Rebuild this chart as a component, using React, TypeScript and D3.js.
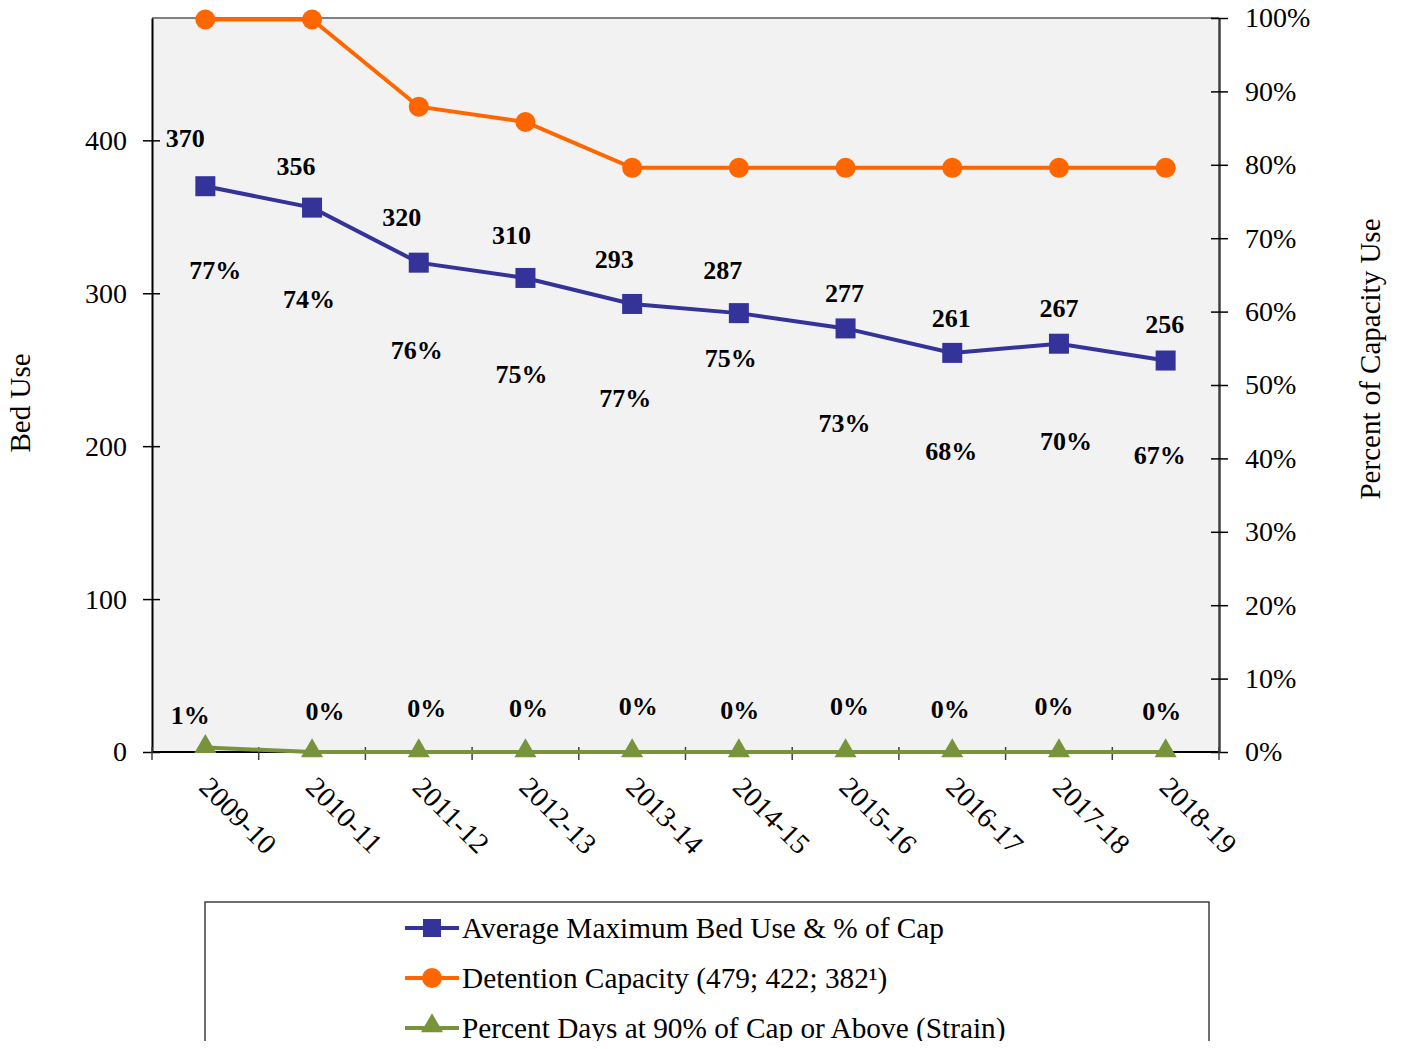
import { useEffect, useRef } from "react";
import * as d3 from "d3";

const years = [
  "2009-10", "2010-11", "2011-12", "2012-13", "2013-14",
  "2014-15", "2015-16", "2016-17", "2017-18", "2018-19",
];
const bedUse = [370, 356, 320, 310, 293, 287, 277, 261, 267, 256];
const pctOfCap = [77, 74, 76, 75, 77, 75, 73, 68, 70, 67];
const capacity = [479, 479, 422, 412, 382, 382, 382, 382, 382, 382];
const strainPct = [0.6, 0, 0, 0, 0, 0, 0, 0, 0, 0];
const leftTicks = [0, 100, 200, 300, 400];
const rightTicks = [0, 10, 20, 30, 40, 50, 60, 70, 80, 90, 100];
const legendLabels = [
  "Average Maximum Bed Use & % of Cap",
  "Detention Capacity (479; 422; 382¹)",
  "Percent Days at 90% of Cap or Above (Strain)",
];

// hand-placed label nudges, as in the original chart
const bedLabelNudge = [[-20, -48], [-16, -41], [-17, -45], [-14, -42], [-18, -44], [-16, -43], [-1, -35], [-1, -34], [0, -35], [-1, -36]];
const pctLabelNudge = [[10, 84], [-3, 92], [-2, 88], [-4, 97], [-7, 95], [-8, 45], [-1, 95], [-1, 99], [7, 98], [-6, 95]];
const strainLabelNudge = [[-15, -32], [13, -41], [8, -44], [3, -44], [6, -46], [1, -42], [4, -46], [-2, -43], [-5, -46], [-4, -41]];

const BLUE = "#333399";
const ORANGE = "#FF6600";
const GREEN = "#77933C";
const FONT = "'Liberation Serif', 'Times New Roman', serif";

export default function App() {
  const ref = useRef<SVGSVGElement>(null);

  useEffect(() => {
    if (!ref.current) return;
    const width = 1401;
    const height = 1049;
    const left = 152, right = 1219, top = 18, bottom = 752;

    const svg = d3.select(ref.current);
    svg.selectAll("*").remove();
    svg.attr("width", width).attr("height", height).style("font-family", FONT);

    const x = d3.scaleBand<string>().domain(years).range([left, right]);
    const cx = (d: string) => (x(d) ?? 0) + x.bandwidth() / 2;
    const y = d3.scaleLinear().domain([0, 480]).range([bottom, top]);
    const yPct = d3.scaleLinear().domain([0, 100]).range([bottom, top]);

    // plot area
    svg.append("rect")
      .attr("x", left).attr("y", top)
      .attr("width", right - left).attr("height", bottom - top)
      .attr("fill", "#F2F2F2");
    svg.append("line")
      .attr("x1", left).attr("x2", right).attr("y1", top).attr("y2", top)
      .attr("stroke", "#808080").attr("stroke-width", 2);

    // left axis
    const gl = svg.append("g").attr("transform", `translate(${left},0)`)
      .call(d3.axisLeft(y).tickValues(leftTicks).tickSize(0).tickPadding(25));
    gl.select(".domain").attr("stroke", "#000").attr("stroke-width", 2);
    gl.selectAll(".tick line").attr("x1", -9).attr("x2", 8).attr("stroke", "#000").attr("stroke-width", 1.5);
    gl.selectAll(".tick text").attr("font-size", 28).attr("font-family", FONT).attr("fill", "#000");

    // right axis
    const gr = svg.append("g").attr("transform", `translate(${right},0)`)
      .call(d3.axisRight(yPct).tickValues(rightTicks).tickSize(0).tickPadding(26).tickFormat((d) => `${d}%`));
    gr.select(".domain").attr("stroke", "#404040").attr("stroke-width", 2.5);
    gr.selectAll(".tick line").attr("x1", -8).attr("x2", 9).attr("stroke", "#000").attr("stroke-width", 1.5);
    gr.selectAll(".tick text").attr("font-size", 28).attr("font-family", FONT).attr("fill", "#000");

    // bottom axis
    svg.append("line")
      .attr("x1", left).attr("x2", right).attr("y1", bottom).attr("y2", bottom)
      .attr("stroke", "#000").attr("stroke-width", 2);
    const bounds = [...years.map((d) => x(d) ?? 0), right];
    svg.append("g").selectAll("line").data(bounds).join("line")
      .attr("x1", (d) => d).attr("x2", (d) => d)
      .attr("y1", bottom - 5).attr("y2", bottom + 8)
      .attr("stroke", "#404040").attr("stroke-width", 1.5);
    svg.append("g").selectAll("text").data(years).join("text")
      .attr("transform", (d) => `translate(${cx(d) - 1},${bottom + 30}) rotate(45)`)
      .attr("font-size", 28.5).attr("dominant-baseline", "central")
      .text((d) => d);

    // axis titles
    svg.append("text")
      .attr("transform", `translate(30,403) rotate(-90)`)
      .attr("text-anchor", "middle").attr("font-size", 29).text("Bed Use");
    svg.append("text")
      .attr("transform", `translate(1380,359) rotate(-90)`)
      .attr("text-anchor", "middle").attr("font-size", 29).text("Percent of Capacity Use");

    const lineBed = d3.line<number>().x((_, i) => cx(years[i])).y((d) => y(d));
    const linePct = d3.line<number>().x((_, i) => cx(years[i])).y((d) => yPct(d));

    // capacity
    svg.append("path").datum(capacity).attr("d", lineBed)
      .attr("fill", "none").attr("stroke", ORANGE).attr("stroke-width", 4);
    svg.append("g").selectAll("circle").data(capacity).join("circle")
      .attr("cx", (_, i) => cx(years[i])).attr("cy", (d) => y(d)).attr("r", 10)
      .attr("fill", ORANGE);

    // bed use
    svg.append("path").datum(bedUse).attr("d", lineBed)
      .attr("fill", "none").attr("stroke", BLUE).attr("stroke-width", 4);
    svg.append("g").selectAll("rect").data(bedUse).join("rect")
      .attr("x", (_, i) => cx(years[i]) - 10).attr("y", (d) => y(d) - 10)
      .attr("width", 20).attr("height", 20).attr("fill", BLUE);

    // strain
    svg.append("path").datum(strainPct).attr("d", linePct)
      .attr("fill", "none").attr("stroke", GREEN).attr("stroke-width", 4);
    const tri = d3.symbol().type(d3.symbolTriangle).size(210);
    svg.append("g").selectAll("path").data(strainPct).join("path")
      .attr("transform", (d, i) => `translate(${cx(years[i])},${yPct(d) - 1})`)
      .attr("d", tri).attr("fill", GREEN);

    // data labels
    const labels = svg.append("g").attr("font-size", 26).attr("font-weight", "bold")
      .attr("text-anchor", "middle").attr("dominant-baseline", "central");
    labels.selectAll("text.bed").data(bedUse).join("text").attr("class", "bed")
      .attr("x", (_, i) => cx(years[i]) + bedLabelNudge[i][0])
      .attr("y", (d, i) => y(d) + bedLabelNudge[i][1])
      .text((d) => d);
    labels.selectAll("text.pct").data(pctOfCap).join("text").attr("class", "pct")
      .attr("x", (_, i) => cx(years[i]) + pctLabelNudge[i][0])
      .attr("y", (_, i) => y(bedUse[i]) + pctLabelNudge[i][1])
      .text((d) => `${d}%`);
    labels.selectAll("text.strain").data(strainPct).join("text").attr("class", "strain")
      .attr("x", (_, i) => cx(years[i]) + strainLabelNudge[i][0])
      .attr("y", (d, i) => yPct(d) + strainLabelNudge[i][1])
      .text((d) => `${Math.round(d)}%`);

    // legend
    svg.append("rect")
      .attr("x", 205).attr("y", 902).attr("width", 1004).attr("height", 160)
      .attr("fill", "#fff").attr("stroke", "#404040").attr("stroke-width", 1.5);
    const colors = [BLUE, ORANGE, GREEN];
    const items = svg.append("g").selectAll("g").data(legendLabels).join("g")
      .attr("transform", (_, i) => `translate(405,${928 + i * 50})`);
    items.append("line").attr("x1", 0).attr("x2", 54)
      .attr("stroke", (_, i) => colors[i]).attr("stroke-width", 4);
    items.each(function (_, i) {
      const g = d3.select(this);
      if (i === 0) g.append("rect").attr("x", 18).attr("y", -9).attr("width", 18).attr("height", 18).attr("fill", BLUE);
      if (i === 1) g.append("circle").attr("cx", 27).attr("r", 10).attr("fill", ORANGE);
      if (i === 2) g.append("path").attr("transform", "translate(27,-2)").attr("d", tri).attr("fill", GREEN);
    });
    items.append("text").attr("x", 57).attr("font-size", 29.3)
      .attr("dominant-baseline", "central").text((d) => d);
  }, []);

  return <svg ref={ref} style={{ display: "block", margin: "-8px" }} />;
}
